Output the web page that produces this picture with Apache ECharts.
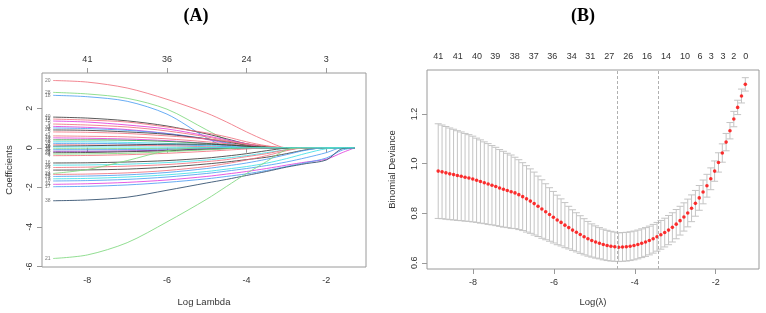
<!DOCTYPE html>
<html><head><meta charset="utf-8">
<script src="https://cdn.jsdelivr.net/npm/echarts@6/dist/echarts.min.js"></script>
<style>html,body{margin:0;padding:0;background:#fff}#c{width:766px;height:313px}</style>
</head><body><div id="c"></div>
<script>
// ---------- Panel A: coefficient paths ----------
const coefLogLambda = [-8.86,-8,-7,-6,-5,-4.5,-4,-3.5,-3,-2.5,-2,-1.6,-1.28];
const coefPaths = [
 [3.40,3.32,3.02,2.45,1.75,1.30,0.80,0.35,0,0,0,0,0],
 [2.80,2.72,2.50,1.95,0.90,0.40,0.10,0,0,0,0,0,0],
 [2.65,2.58,2.35,1.70,0.50,0.05,0,0,0,0,0,0,0],
 [1.55,1.50,1.36,1.10,0.70,0.45,0.20,0.05,0,0,0,0,0],
 [1.45,1.40,1.30,1.05,0.75,0.55,0.30,0.10,0,0,0,0,0],
 [1.35,1.30,1.15,0.95,0.60,0.40,0.20,0,0,0,0,0,0],
 [1.20,1.15,1.05,0.85,0.55,0.35,0.15,0,0,0,0,0,0],
 [1.08,1.03,0.92,0.72,0.42,0.22,0.05,0,0,0,0,0,0],
 [1.00,0.97,0.88,0.72,0.45,0.25,0.05,0,0,0,0,0,0],
 [0.90,0.88,0.80,0.68,0.45,0.30,0.12,0,0,0,0,0,0],
 [0.80,0.78,0.72,0.60,0.45,0.32,0.20,0.08,0,0,0,0,0],
 [0.60,0.58,0.55,0.45,0.30,0.20,0.10,0,0,0,0,0,0],
 [0.50,0.48,0.44,0.36,0.22,0.12,0.03,0,0,0,0,0,0],
 [0.40,0.40,0.38,0.32,0.22,0.15,0.08,0.02,0,0,0,0,0],
 [0.30,0.30,0.27,0.22,0.14,0.08,0.02,0,0,0,0,0,0],
 [0.22,0.22,0.20,0.15,0.10,0.05,0,0,0,0,0,0,0],
 [0.15,0.14,0.12,0.10,0.05,0.02,0,0,0,0,0,0,0],
 [0.08,0.10,0.14,0.18,0.18,0.14,0.08,0.02,0,0,0,0,0],
 [-0.05,-0.05,-0.04,-0.03,0,0,0,0,0,0,0,0,0],
 [-0.10,-0.10,-0.09,-0.07,-0.03,0,0,0,0,0,0,0,0],
 [-0.18,-0.18,-0.16,-0.12,-0.06,-0.03,0,0,0,0,0,0,0],
 [-0.25,-0.24,-0.20,-0.15,-0.08,-0.04,0,0,0,0,0,0,0],
 [-0.32,-0.31,-0.28,-0.20,-0.10,-0.05,0,0,0,0,0,0,0],
 [-0.40,-0.39,-0.35,-0.28,-0.18,-0.12,-0.06,0,0,0,0,0,0],
 [-0.77,-0.76,-0.72,-0.65,-0.52,-0.42,-0.30,-0.15,-0.02,0,0,0,0],
 [-0.88,-0.87,-0.83,-0.75,-0.62,-0.52,-0.40,-0.25,-0.10,0,0,0,0],
 [-1.00,-0.98,-0.93,-0.85,-0.70,-0.60,-0.45,-0.30,-0.10,0,0,0,0],
 [-1.13,-1.12,-1.08,-0.98,-0.82,-0.72,-0.60,-0.48,-0.30,-0.10,0,0,0],
 [-1.30,-1.10,-0.65,-0.15,0,0,0,0,0,0,0,0,0],
 [-1.35,-1.33,-1.27,-1.15,-0.95,-0.80,-0.62,-0.40,-0.15,0,0,0,0],
 [-1.45,-1.43,-1.37,-1.25,-1.05,-0.92,-0.77,-0.58,-0.35,-0.12,0,0,0],
 [-1.57,-1.55,-1.48,-1.37,-1.20,-1.08,-0.95,-0.78,-0.55,-0.28,-0.05,0,0],
 [-1.68,-1.66,-1.60,-1.48,-1.30,-1.18,-1.05,-0.90,-0.72,-0.50,-0.25,0,0],
 [-1.85,-1.82,-1.75,-1.63,-1.45,-1.33,-1.20,-1.05,-0.88,-0.72,-0.58,-0.25,0],
 [-1.97,-1.95,-1.88,-1.75,-1.57,-1.45,-1.32,-1.15,-0.95,-0.75,-0.52,-0.12,0],
 [-2.68,-2.64,-2.50,-2.15,-1.78,-1.60,-1.40,-1.20,-0.98,-0.80,-0.62,-0.05,0],
 [-5.60,-5.42,-4.80,-3.75,-2.60,-1.95,-1.30,-0.70,-0.10,0,0,0,0],
 [0.04,0.04,0.04,0.03,0.02,0.01,0,0,0,0,0,0,0]
];
const coefColorKeys = ['r','g','b','k','r','m','r','m','b','k','r','r','m','dg','c','b','r','k','g','b','pu','k','g','r','k','c','r','k','g','r','b','c','b','m','b','db','g','c'];
const coefLabels = ['20','28','18','40','12','15','9','1','33','26','5','41','19','23','8','37','2','14','11','35','6','22','31','4','16','36','27','7','24','13','25','3','10','34','17','38','21','30'];
const topTicksA = [-8,-6,-4,-2];
const topLabelsA = ['41','36','24','3'];

// ---------- Panel B: cross-validation curve ----------
const cvLogLambda = [-8.860,-8.765,-8.670,-8.575,-8.480,-8.386,-8.291,-8.196,-8.101,-8.006,
 -7.911,-7.816,-7.721,-7.626,-7.531,-7.437,-7.342,-7.247,-7.152,-7.057,
 -6.962,-6.867,-6.772,-6.677,-6.582,-6.488,-6.393,-6.298,-6.203,-6.108,
 -6.013,-5.918,-5.823,-5.728,-5.633,-5.539,-5.444,-5.349,-5.254,-5.159,
 -5.064,-4.969,-4.874,-4.779,-4.684,-4.590,-4.495,-4.400,-4.305,-4.210,
 -4.115,-4.020,-3.925,-3.830,-3.735,-3.641,-3.546,-3.451,-3.356,-3.261,
 -3.166,-3.071,-2.976,-2.881,-2.786,-2.692,-2.597,-2.502,-2.407,-2.312,
 -2.217,-2.122,-2.027,-1.932,-1.837,-1.743,-1.648,-1.553,-1.458,-1.363,-1.268];
const cvMean = [0.970,0.967,0.963,0.959,0.956,0.952,0.949,0.945,0.942,0.938,
 0.933,0.928,0.923,0.918,0.913,0.908,0.902,0.897,0.892,0.887,
 0.882,0.875,0.867,0.858,0.849,0.839,0.828,0.817,0.806,0.795,
 0.784,0.773,0.763,0.752,0.742,0.732,0.723,0.714,0.705,0.697,
 0.690,0.684,0.679,0.674,0.670,0.667,0.665,0.663,0.664,0.665,
 0.667,0.670,0.674,0.679,0.684,0.690,0.697,0.705,0.713,0.722,
 0.732,0.743,0.756,0.770,0.785,0.801,0.820,0.840,0.862,0.886,
 0.911,0.939,0.970,1.005,1.043,1.087,1.133,1.180,1.227,1.273,1.320];
const cvHalf = [0.191,0.189,0.187,0.185,0.183,0.181,0.179,0.177,0.175,0.173,
 0.170,0.168,0.165,0.163,0.160,0.158,0.155,0.153,0.150,0.148,
 0.144,0.141,0.137,0.134,0.130,0.127,0.122,0.118,0.113,0.108,
 0.104,0.100,0.095,0.091,0.086,0.082,0.079,0.076,0.073,0.070,
 0.067,0.065,0.063,0.062,0.061,0.060,0.059,0.058,0.058,0.058,
 0.058,0.058,0.058,0.058,0.058,0.058,0.058,0.058,0.058,0.058,
 0.059,0.059,0.059,0.058,0.057,0.056,0.054,0.052,0.050,0.048,
 0.046,0.044,0.041,0.039,0.037,0.035,0.033,0.031,0.029,0.028,0.027];
const cvDfPos = [-8.858,-8.378,-7.901,-7.449,-6.969,-6.499,-6.040,-5.560,-5.100,-4.630,-4.161,-3.698,-3.229,-2.759,-2.388,-2.109,-1.820,-1.555,-1.258];
const cvDfLabels = ['41','41','40','39','38','37','36','34','31','27','26','16','14','10','6','3','3','2','0'];
const lambdaMinLog = -4.437;
const lambda1seLog = -3.425;

// ---------- build ----------
const palette = {k:'#3c3c3c', r:'#f0727f', g:'#7fd87f', b:'#4f9ff2', c:'#40dfe6', m:'#e040dc', dg:'#2f9a48', pu:'#8a2fb0', db:'#2c4a6a'};
const FONT = '"Liberation Sans", Arial, sans-serif';
const GRAY = '#9a9a9a';
const TXT = '#333';

const lineSeries = coefPaths.map((p, i) => ({
  type: 'line', xAxisIndex: 0, yAxisIndex: 0, showSymbol: false, silent: true,
  smooth: 0.3,
  data: p.map((v, j) => [coefLogLambda[j], v]),
  lineStyle: { width: 0.9, color: palette[coefColorKeys[i]], opacity: 0.95 },
  animation: false
}));

const labelSeries = {
  type: 'scatter', xAxisIndex: 0, yAxisIndex: 0, symbolSize: 1, silent: true,
  itemStyle: { color: 'rgba(0,0,0,0)' },
  data: coefPaths.map((p, i) => ({ value: [coefLogLambda[0], p[0]], name: coefLabels[i] })),
  label: { show: true, position: 'left', distance: 2, formatter: '{b}', fontSize: 5, color: '#555', fontFamily: FONT },
  z: 5, animation: false
};

const errSeries = {
  type: 'custom', xAxisIndex: 2, yAxisIndex: 1, silent: true,
  data: cvLogLambda.map((x, i) => [x, cvMean[i], cvHalf[i]]),
  encode: { x: 0, y: 1 },
  renderItem: function (params, api) {
    const x = api.value(0), m = api.value(1), h = api.value(2);
    const t = api.coord([x, m + h]), b = api.coord([x, m - h]);
    const cw = 3.5, st = { stroke: '#c4c4c4', lineWidth: 1 };
    return { type: 'group', children: [
      { type: 'line', shape: { x1: t[0], y1: t[1], x2: b[0], y2: b[1] }, style: st },
      { type: 'line', shape: { x1: t[0] - cw, y1: t[1], x2: t[0] + cw, y2: t[1] }, style: st },
      { type: 'line', shape: { x1: b[0] - cw, y1: b[1], x2: b[0] + cw, y2: b[1] }, style: st }
    ]};
  },
  z: 2, animation: false
};

const dotSeries = {
  type: 'scatter', xAxisIndex: 2, yAxisIndex: 1, silent: true,
  data: cvLogLambda.map((x, i) => [x, cvMean[i]]),
  symbolSize: 3.6, itemStyle: { color: '#ff0000' }, z: 4, animation: false,
  markLine: {
    silent: true, symbol: 'none', label: { show: false },
    lineStyle: { color: '#b0b0b0', type: [3, 2], width: 1 },
    data: [{ xAxis: lambdaMinLog }, { xAxis: lambda1seLog }],
    animation: false
  }
};

const tickLbl = { fontSize: 9, color: TXT, fontFamily: FONT };
const topMapA = {}; topTicksA.forEach((v, i) => topMapA[v.toFixed(3)] = topLabelsA[i]);
const topMapB = {}; cvDfPos.forEach((v, i) => topMapB[v.toFixed(3)] = cvDfLabels[i]);

const option = {
  backgroundColor: '#fff',
  animation: false,
  grid: [
    { left: 42, top: 73, width: 324, height: 194, show: true, borderColor: GRAY, borderWidth: 1, backgroundColor: 'transparent' },
    { left: 427, top: 70, width: 332, height: 199, show: true, borderColor: GRAY, borderWidth: 1, backgroundColor: 'transparent' }
  ],
  xAxis: [
    { type: 'value', gridIndex: 0, min: -9.14, max: -1.0, position: 'bottom',
      axisLine: { show: false }, splitLine: { show: false },
      axisTick: { show: true, length: 5, lineStyle: { color: GRAY }, customValues: topTicksA },
      axisLabel: Object.assign({ margin: 9, customValues: topTicksA }, tickLbl),
      name: 'Log Lambda', nameLocation: 'middle', nameGap: 30, nameTextStyle: { fontSize: 9.5, color: TXT, fontFamily: FONT } },
    { type: 'value', gridIndex: 0, min: -9.14, max: -1.0, position: 'top',
      axisLine: { show: false }, splitLine: { show: false },
      axisTick: { show: true, length: 5, lineStyle: { color: GRAY }, customValues: topTicksA },
      axisLabel: Object.assign({ margin: 9, customValues: topTicksA, formatter: v => topMapA[Number(v).toFixed(3)] || '' }, tickLbl) },
    { type: 'value', gridIndex: 1, min: -9.137, max: -0.93, position: 'bottom',
      axisLine: { show: false }, splitLine: { show: false },
      axisTick: { show: true, length: 5, lineStyle: { color: GRAY }, customValues: topTicksA },
      axisLabel: Object.assign({ margin: 9, customValues: topTicksA }, tickLbl),
      name: 'Log(\u03BB)', nameLocation: 'middle', nameGap: 28, nameTextStyle: { fontSize: 9.5, color: TXT, fontFamily: FONT } },
    { type: 'value', gridIndex: 1, min: -9.137, max: -0.93, position: 'top',
      axisLine: { show: false }, splitLine: { show: false },
      axisTick: { show: false },
      axisLabel: Object.assign({ margin: 9, customValues: cvDfPos, formatter: v => topMapB[Number(v).toFixed(3)] || '' }, tickLbl) }
  ],
  yAxis: [
    { type: 'value', gridIndex: 0, min: -6.03, max: 3.78,
      axisLine: { show: false }, splitLine: { show: false },
      axisTick: { show: true, length: 5, lineStyle: { color: GRAY }, customValues: [-6, -4, -2, 0, 2] },
      axisLabel: Object.assign({ margin: 8, rotate: 90, customValues: [-6, -4, -2, 0, 2] }, tickLbl),
      name: 'Coefficients', nameLocation: 'middle', nameGap: 28, nameRotate: 90, nameTextStyle: { fontSize: 9.5, color: TXT, fontFamily: FONT } },
    { type: 'value', gridIndex: 1, min: 0.575, max: 1.378,
      axisLine: { show: false }, splitLine: { show: false },
      axisTick: { show: true, length: 5, lineStyle: { color: GRAY }, customValues: [0.6, 0.8, 1.0, 1.2] },
      axisLabel: Object.assign({ margin: 8, rotate: 90, customValues: [0.6, 0.8, 1.0, 1.2], formatter: v => Number(v).toFixed(1) }, tickLbl),
      name: 'Binomial Deviance', nameLocation: 'middle', nameGap: 30, nameRotate: 90, nameTextStyle: { fontSize: 9.5, color: TXT, fontFamily: FONT } }
  ],
  graphic: [
    { type: 'text', x: 196, y: 16, style: { text: '(A)', font: 'bold 18px "Liberation Serif", serif', fill: '#000', textAlign: 'center', textVerticalAlign: 'middle' } },
    { type: 'text', x: 583, y: 16, style: { text: '(B)', font: 'bold 18px "Liberation Serif", serif', fill: '#000', textAlign: 'center', textVerticalAlign: 'middle' } }
  ],
  series: [].concat(lineSeries, [labelSeries, errSeries, dotSeries])
};

const chart = echarts.init(document.getElementById('c'), null, { renderer: 'canvas' });
chart.setOption(option);
</script>
</body></html>
